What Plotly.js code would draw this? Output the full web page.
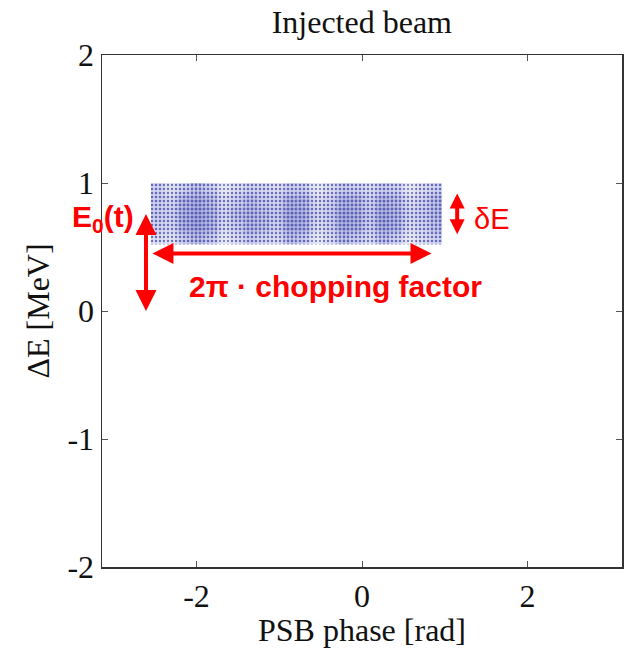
<!DOCTYPE html>
<html>
<head>
<meta charset="utf-8">
<script src="https://cdn.plot.ly/plotly-3.0.1.min.js"></script>
<style>
  html, body { margin: 0; padding: 0; background: #ffffff; }
  #chart { width: 626px; height: 648px; }
</style>
</head>
<body>
<div id="chart"></div>
<script>
// Phase bins (rad) across the injected bunch and energy bin edges (MeV)
const phaseBins = [-2.47, -2.31, -2.15, -1.99, -1.83, -1.67, -1.51, -1.35, -1.19, -1.03, -0.87,
                   -0.71, -0.55, -0.39, -0.23, -0.07, 0.09, 0.25, 0.41, 0.57, 0.73, 0.89];
const phaseBinWidth = 0.16;
const energyEdges = [0.52, 0.616, 0.712, 0.808, 0.904, 1.0];

// Relative particle density per cell (rows from low to high energy, columns follow phaseBins)
const density = [
  [0.45, 0.40, 0.60, 0.70, 0.60, 0.35, 0.45, 0.60, 0.50, 0.45, 0.65, 0.60, 0.35, 0.45, 0.65, 0.60, 0.45, 0.65, 0.55, 0.35, 0.45, 0.55],
  [0.55, 0.50, 0.80, 0.90, 0.75, 0.45, 0.60, 0.75, 0.65, 0.55, 0.85, 0.80, 0.45, 0.55, 0.85, 0.80, 0.55, 0.85, 0.75, 0.45, 0.55, 0.65],
  [0.60, 0.55, 0.80, 0.90, 0.75, 0.50, 0.65, 0.75, 0.65, 0.60, 0.85, 0.80, 0.50, 0.60, 0.85, 0.80, 0.60, 0.85, 0.75, 0.50, 0.60, 0.70],
  [0.60, 0.50, 0.75, 0.85, 0.70, 0.45, 0.60, 0.70, 0.60, 0.55, 0.80, 0.75, 0.45, 0.55, 0.80, 0.75, 0.55, 0.80, 0.70, 0.45, 0.55, 0.70],
  [0.55, 0.40, 0.55, 0.65, 0.55, 0.35, 0.45, 0.55, 0.50, 0.45, 0.60, 0.55, 0.35, 0.45, 0.60, 0.55, 0.45, 0.60, 0.55, 0.35, 0.45, 0.55]
];

// Axis ticks
const xTickVals = [-2, 0, 2];
const xTickText = ['-2', '0', '2'];
const yTickVals = [-2, -1, 0, 1, 2];
const yTickText = ['-2', '-1', '0', '1', '2'];

const serif = 'Liberation Serif, Times New Roman, serif';
const sans = 'Liberation Sans, Arial, sans-serif';
const red = '#ff0000';
const dotBlue = 'rgb(62,68,165)';

const energyCentres = energyEdges.slice(0, -1).map((e, i) => (e + energyEdges[i + 1]) / 2);

// Soft density haze underneath the macro-particle dots
const haze = {
  type: 'heatmap',
  x: phaseBins,
  y: energyCentres,
  z: density,
  zmin: 0,
  zmax: 1,
  zsmooth: 'best',
  showscale: false,
  hoverinfo: 'skip',
  colorscale: [[0, 'rgb(255,255,255)'], [0.3, 'rgb(238,239,250)'], [1, 'rgb(160,165,220)']]
};

// Each energy band drawn as bars filled with a dot pattern whose solidity follows the density
const bands = density.map((row, i) => ({
  type: 'bar',
  x: phaseBins,
  y: phaseBins.map(() => energyEdges[i + 1] - energyEdges[i]),
  base: energyEdges[i],
  width: phaseBinWidth,
  hoverinfo: 'skip',
  marker: {
    color: 'rgba(255,255,255,0)',
    line: { width: 0 },
    pattern: {
      shape: '.',
      size: 4,
      solidity: row.map(v => 0.05 + 0.5 * v),
      fgcolor: dotBlue,
      fgopacity: 0.75,
      bgcolor: 'rgba(255,255,255,0)'
    }
  }
}));

const axisCommon = {
  showgrid: false,
  zeroline: false,
  showline: true,
  linecolor: '#333333',
  linewidth: 1.5,
  mirror: 'ticks',
  ticks: 'inside',
  ticklen: 6,
  tickwidth: 1,
  tickcolor: '#555555',
  tickmode: 'array',
  tickfont: { family: serif, size: 32, color: '#111111' }
};

function arrow(x, y, ax, ay, size) {
  return {
    x: x, y: y, ax: ax, ay: ay,
    xref: 'x', yref: 'y', axref: 'x', ayref: 'y',
    text: '', showarrow: true,
    arrowhead: 2, startarrowhead: 2, arrowside: 'end+start',
    arrowsize: size, startarrowsize: size,
    arrowwidth: 4, arrowcolor: red
  };
}

const layout = {
  width: 626,
  height: 648,
  margin: { l: 102, r: 4, t: 55, b: 81 },
  paper_bgcolor: '#ffffff',
  plot_bgcolor: '#ffffff',
  showlegend: false,
  barmode: 'overlay',
  title: {
    text: 'Injected beam',
    font: { family: serif, size: 32, color: '#111111' },
    x: 0.578, xanchor: 'center',
    y: 0.966, yanchor: 'middle'
  },
  xaxis: Object.assign({}, axisCommon, {
    range: [-Math.PI, Math.PI],
    tickvals: xTickVals,
    ticktext: xTickText,
    title: { text: 'PSB phase [rad]', font: { family: serif, size: 32, color: '#111111' }, standoff: 4 }
  }),
  yaxis: Object.assign({}, axisCommon, {
    range: [-2, 2],
    tickvals: yTickVals,
    ticktext: yTickText,
    title: { text: 'ΔE [MeV]', font: { family: serif, size: 32, color: '#111111' }, standoff: 8 }
  }),
  annotations: [
    // E0(t): from zero energy up to the bunch centre
    arrow(-2.61, 0.0, -2.61, 0.77, 1.05),
    // bunch length
    arrow(0.84, 0.45, -2.55, 0.45, 1.05),
    // energy spread
    arrow(1.15, 0.6, 1.15, 0.93, 0.75),
    {
      x: -2.73, y: 0.72, xref: 'x', yref: 'y', xanchor: 'right', yanchor: 'middle',
      text: '<b>E<sub>0</sub>(t)</b>', showarrow: false,
      font: { family: sans, size: 30, color: red }
    },
    {
      x: -0.32, y: 0.19, xref: 'x', yref: 'y', xanchor: 'center', yanchor: 'middle',
      text: '<b>2π · chopping factor</b>', showarrow: false,
      font: { family: sans, size: 30, color: red }
    },
    {
      x: 1.33, y: 0.72, xref: 'x', yref: 'y', xanchor: 'left', yanchor: 'middle',
      text: 'δE', showarrow: false,
      font: { family: sans, size: 29, color: red }
    }
  ]
};

Plotly.newPlot('chart', [haze].concat(bands), layout, { displayModeBar: false, staticPlot: true });
</script>
</body>
</html>
